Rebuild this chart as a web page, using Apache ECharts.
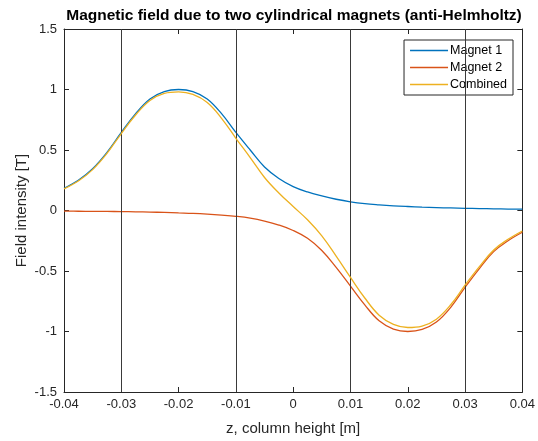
<!DOCTYPE html>
<html>
<head>
<meta charset="utf-8">
<script src="https://cdn.jsdelivr.net/npm/echarts@6/dist/echarts.min.js"></script>
<style>
  html, body { margin: 0; padding: 0; background: #fff; }
  #chart { width: 538px; height: 441px; }
</style>
</head>
<body>
<div id="chart"></div>
<script>
// Axial position along the column [m]
const zValues = [
  -0.04, -0.0375, -0.035, -0.0325, -0.03, -0.0275, -0.025, -0.0225,
  -0.02, -0.0175, -0.015, -0.0125, -0.01, -0.0075, -0.005, -0.0025,
  0, 0.0025, 0.005, 0.0075, 0.01, 0.0125, 0.015, 0.0175,
  0.02, 0.0225, 0.025, 0.0275, 0.03, 0.0325, 0.035, 0.0375, 0.04
];

// Field of each magnet and their sum [T]
const magnet1 = [
  0.184, 0.25, 0.345, 0.48, 0.645, 0.80, 0.922, 0.983,
  1.0, 0.983, 0.922, 0.80, 0.645, 0.50, 0.36, 0.265,
  0.198, 0.153, 0.12, 0.093, 0.072, 0.057, 0.047, 0.039,
  0.033, 0.028, 0.024, 0.021, 0.018, 0.016, 0.014, 0.012, 0.011
];
const magnet2 = [
  -0.005, -0.006, -0.007, -0.008, -0.009, -0.011, -0.013, -0.016,
  -0.020, -0.024, -0.030, -0.038, -0.048, -0.063, -0.087, -0.12,
  -0.165, -0.23, -0.33, -0.47, -0.625, -0.78, -0.912, -0.98,
  -1.0, -0.983, -0.922, -0.80, -0.635, -0.48, -0.34, -0.25, -0.18
];
const combined = [
  0.179, 0.244, 0.338, 0.472, 0.636, 0.789, 0.909, 0.967,
  0.980, 0.959, 0.892, 0.762, 0.597, 0.437, 0.273, 0.145,
  0.033, -0.077, -0.210, -0.377, -0.553, -0.723, -0.865, -0.941,
  -0.967, -0.955, -0.898, -0.779, -0.617, -0.464, -0.326, -0.238, -0.169
];

const seriesNames = ['Magnet 1', 'Magnet 2', 'Combined'];
const seriesColors = ['#0072BD', '#D95319', '#EDB120'];

// Vertical reference lines
const markerZ = [-0.03, -0.01, 0.01, 0.03];

// Axis ranges and tick steps
const xRange = [-0.04, 0.04], xStep = 0.01;
const yRange = [-1.5, 1.5], yStep = 0.5;

const axisColor = '#262626';
const font = 'Liberation Sans, Arial, Helvetica, sans-serif';

const pairs = (ys) => zValues.map((z, i) => [z, ys[i]]);
const fmt = (v) => String(Math.round(v * 1000) / 1000);

const tickCommon = {
  show: true, inside: true, length: 5,
  lineStyle: { color: axisColor, width: 1 }
};

const chart = echarts.init(document.getElementById('chart'), null, { renderer: 'canvas' });

const lineSeries = [magnet1, magnet2, combined].map((ys, k) => ({
  name: seriesNames[k],
  type: 'line',
  data: pairs(ys),
  smooth: 0.4,
  symbol: 'none',
  lineStyle: { color: seriesColors[k], width: 1.3 },
  itemStyle: { color: seriesColors[k] },
  z: 3 + k
}));

// Reference lines drawn under the curves
lineSeries.push({
  type: 'line',
  data: [],
  silent: true,
  markLine: {
    silent: true,
    symbol: 'none',
    label: { show: false },
    animation: false,
    lineStyle: { color: '#3a3a3a', width: 1, type: 'solid' },
    data: markerZ.map(z => ({ xAxis: z }))
  },
  z: 1
});

chart.setOption({
  animation: false,
  backgroundColor: '#ffffff',
  title: {
    text: 'Magnetic field due to two cylindrical magnets (anti-Helmholtz)',
    left: 289, top: 3, textAlign: 'center',
    textStyle: { fontFamily: font, fontSize: 15.5, fontWeight: 'bold', color: '#000' }
  },
  legend: {
    data: seriesNames.map(n => ({ name: n, icon: 'rect' })),
    orient: 'vertical',
    right: 25, top: 40,
    itemWidth: 38, itemHeight: 1.5, itemGap: 4,
    padding: [4, 6, 4, 6],
    borderColor: axisColor, borderWidth: 1,
    backgroundColor: '#fff',
    textStyle: { fontFamily: font, fontSize: 12.5, color: '#000', padding: [0, 0, 0, -3] }
  },
  grid: { left: 64, right: 14, top: 29, bottom: 49 },
  xAxis: [{
    type: 'value', min: xRange[0], max: xRange[1], interval: xStep,
    position: 'bottom',
    name: 'z, column height [m]', nameLocation: 'middle', nameGap: 29,
    nameTextStyle: { fontFamily: font, fontSize: 15, color: axisColor },
    axisLine: { show: true, onZero: false, lineStyle: { color: axisColor, width: 1 } },
    axisTick: tickCommon,
    axisLabel: { fontFamily: font, fontSize: 13, color: axisColor, margin: 6, formatter: fmt },
    splitLine: { show: false }
  }, {
    type: 'value', min: xRange[0], max: xRange[1], interval: xStep,
    position: 'top',
    axisLine: { show: true, onZero: false, lineStyle: { color: axisColor, width: 1 } },
    axisTick: tickCommon,
    axisLabel: { show: false },
    splitLine: { show: false }
  }],
  yAxis: [{
    type: 'value', min: yRange[0], max: yRange[1], interval: yStep,
    position: 'left',
    name: 'Field intensity [T]', nameLocation: 'middle', nameGap: 35,
    nameMoveOverlap: false,
    nameTextStyle: { fontFamily: font, fontSize: 15, color: axisColor },
    axisLine: { show: true, onZero: false, lineStyle: { color: axisColor, width: 1 } },
    axisTick: tickCommon,
    axisLabel: { fontFamily: font, fontSize: 13, color: axisColor, margin: 7, formatter: fmt },
    splitLine: { show: false }
  }, {
    type: 'value', min: yRange[0], max: yRange[1], interval: yStep,
    position: 'right',
    axisLine: { show: true, onZero: false, lineStyle: { color: axisColor, width: 1 } },
    axisTick: tickCommon,
    axisLabel: { show: false },
    splitLine: { show: false }
  }],
  series: lineSeries
});
</script>
</body>
</html>
